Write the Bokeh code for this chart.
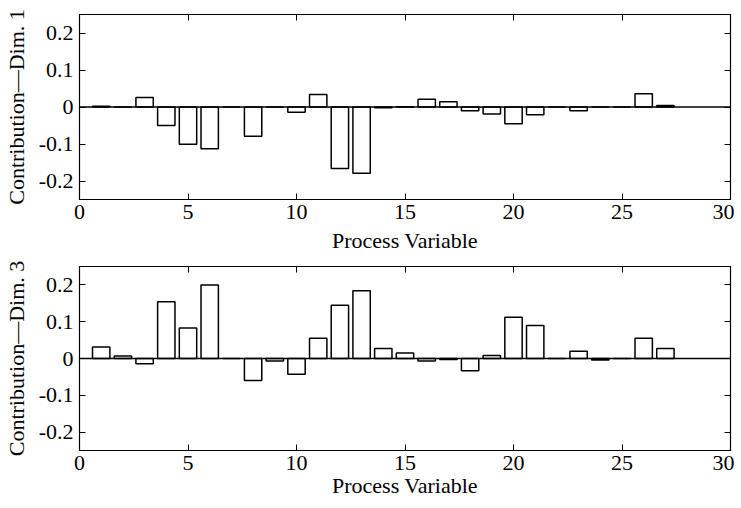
from bokeh.plotting import figure
from bokeh.layouts import column
from bokeh.models import LinearAxis, FixedTicker, Span, Range1d, CustomJSTickFormatter
from bokeh.embed import file_html
from bokeh.resources import INLINE

variables = list(range(1, 28))
dim1 = [0.002, 0.0, 0.026, -0.050, -0.101, -0.113, 0.0, -0.079, 0.0, -0.014,
        0.034, -0.166, -0.179, -0.002, 0.001, 0.021, 0.014, -0.010, -0.019, -0.045,
        -0.021, 0.0, -0.010, 0.0, 0.0, 0.036, 0.004]
dim3 = [0.031, 0.007, -0.014, 0.154, 0.083, 0.200, 0.0, -0.060, -0.007, -0.043,
        0.055, 0.145, 0.184, 0.027, 0.015, -0.007, -0.003, -0.033, 0.008, 0.112,
        0.090, 0.0, 0.020, -0.004, 0.0, 0.055, 0.027]

x_ticks = [0, 5, 10, 15, 20, 25, 30]
y_ticks = [-0.2, -0.1, 0, 0.1, 0.2]
y_tick_labels = ["-0.2", "-0.1", "0", "0.1", "0.2"]
x_label = "Process Variable"
y_labels = ["Contribution\u2014Dim. 1", "Contribution\u2014Dim. 3"]

FONT = "Liberation Serif"


def make_panel(values, ylabel, frame_h, top_border, bottom_border, xlabel_standoff):
    p = figure(frame_width=651, frame_height=frame_h, output_backend="svg", toolbar_location=None,
               x_range=Range1d(0, 30), y_range=Range1d(-0.25, 0.25),
               min_border_left=70, min_border_right=4,
               min_border_top=top_border, min_border_bottom=bottom_border)
    p.outline_line_color = "black"
    p.outline_line_width = 1.2
    p.grid.visible = False
    p.background_fill_color = "white"
    p.border_fill_color = "white"

    p.vbar(x=variables, top=values, bottom=0, width=0.8,
           fill_color="white", line_color="black", line_width=1.5)
    p.add_layout(Span(location=0, dimension="width", line_color="black", line_width=1.3))

    xa = p.xaxis[0]
    ya = p.yaxis[0]
    xa.ticker = FixedTicker(ticks=x_ticks)
    ya.ticker = FixedTicker(ticks=y_ticks)
    ya.major_label_overrides = {t: l for t, l in zip(y_ticks, y_tick_labels)}
    xa.axis_label = x_label
    ya.axis_label = ylabel
    for ax in (xa, ya):
        ax.major_tick_in = 6
        ax.major_tick_out = 0
        ax.minor_tick_in = 0
        ax.minor_tick_out = 0
        ax.axis_line_color = "black"
        ax.major_tick_line_color = "black"
        ax.major_label_text_font = FONT
        ax.major_label_text_font_size = "22px"
        ax.major_label_text_color = "black"
        ax.axis_label_text_font = FONT
        ax.axis_label_text_font_size = "22px"
        ax.axis_label_text_font_style = "normal"
        ax.axis_label_text_color = "black"
    xa.major_label_standoff = 5
    xa.axis_label_standoff = xlabel_standoff
    ya.major_label_standoff = 6
    ya.axis_label_standoff = 7

    for loc, ticks in (("right", y_ticks), ("above", x_ticks)):
        ax = LinearAxis(ticker=FixedTicker(ticks=ticks),
                        formatter=CustomJSTickFormatter(code="return ''"))
        ax.major_tick_in = 6
        ax.major_tick_out = 0
        ax.minor_tick_in = 0
        ax.minor_tick_out = 0
        ax.major_label_standoff = 0
        ax.axis_line_color = "black"
        ax.major_tick_line_color = "black"
        p.add_layout(ax, loc)
    return p


p1 = make_panel(dim1, y_labels[0], 185, 14, 61, 6)
p2 = make_panel(dim3, y_labels[1], 184, 6, 42, 0)

layout = column(p1, p2, spacing=0)
open("out.html", "w").write(file_html(layout, INLINE))
